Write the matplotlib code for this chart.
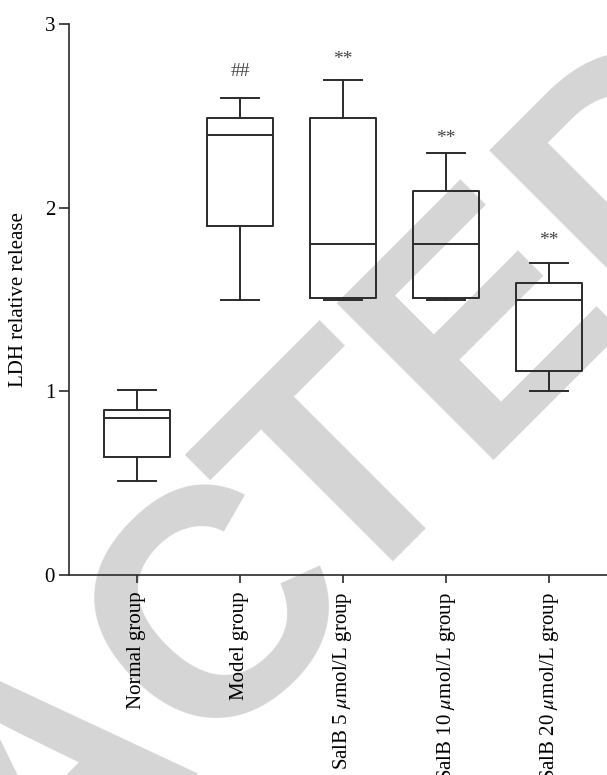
import matplotlib
matplotlib.use("Agg")
import matplotlib.pyplot as plt
from matplotlib.textpath import TextPath
from matplotlib.font_manager import FontProperties

categories = ["Normal group", "Model group", r"SalB 5 $\mu$mol/L group",
              r"SalB 10 $\mu$mol/L group", r"SalB 20 $\mu$mol/L group"]
whisk_low = [0.51, 1.50, 1.50, 1.50, 1.00]
q1 = [0.64, 1.90, 1.51, 1.51, 1.11]
median = [0.855, 2.395, 1.80, 1.80, 1.50]
q3 = [0.90, 2.49, 2.49, 2.09, 1.59]
whisk_high = [1.005, 2.595, 2.695, 2.295, 1.70]
marks = ["", "##", "**", "**", "**"]
mark_y = [None, 2.74, 2.807, 2.377, 1.821]

plt.rcParams['font.family'] = ['Liberation Serif', 'DejaVu Serif']
plt.rcParams['mathtext.fontset'] = 'stix'

W, H = 607, 775
fig = plt.figure(figsize=(W / 100, H / 100), dpi=100)

# watermark "RETRACTED" (drawn in two parts to tighten spacing before the second T)
wm_fs = 233
fp = FontProperties(family='Liberation Sans', weight='bold')
px = wm_fs * 100 / 72
full_r = TextPath((0, 0), "RETRACTED", size=px, prop=fp).get_extents().x1
pre_r = TextPath((0, 0), "RETRAC", size=px, prop=fp).get_extents().x1
d = (full_r - pre_r) - 32
ax0, ay0 = 1.3106, 0.801
wm = dict(rotation=45, rotation_mode='anchor', ha='right', va='baseline',
          fontsize=wm_fs, color='#d5d5d5', family='Liberation Sans',
          weight='bold', zorder=-5)
fig.text(ax0, ay0, "TED", **wm)
fig.text(ax0 - d * 0.7071 / W, ay0 - d * 0.7071 / H, "RETRAC", **wm)

ax = fig.add_axes([69 / W, 200 / H, 1 - 69 / W, 551 / H])
ax.patch.set_alpha(0)
col = '#2b2b2b'
stats = []
for i in range(len(categories)):
    stats.append(dict(med=median[i], q1=q1[i], q3=q3[i],
                      whislo=whisk_low[i], whishi=whisk_high[i], fliers=[]))
ax.bxp(stats, positions=range(len(categories)), widths=0.64, showfliers=False,
       boxprops=dict(color=col, lw=1.4), medianprops=dict(color=col, lw=1.4),
       whiskerprops=dict(color=col, lw=1.4), capprops=dict(color=col, lw=1.4),
       capwidths=0.36, manage_ticks=False)

for i, m in enumerate(marks):
    if m:
        ax.text(i, mark_y[i], m, ha='center', va='center', fontsize=14, color='#444444')

ax.set_xlim(-0.66, 4.563)
ax.set_ylim(0, 3)
ax.set_yticks([0, 1, 2, 3])
ax.set_xticks(range(len(categories)))
ax.set_xticklabels(categories, rotation=90, fontsize=15)
ax.tick_params(axis='y', labelsize=15, length=7, width=1.2, color=col, pad=3)
ax.tick_params(axis='x', length=6, width=1.2, color=col, pad=6)
for s in ['top', 'right']:
    ax.spines[s].set_visible(False)
for s in ['left', 'bottom']:
    ax.spines[s].set_color(col)
    ax.spines[s].set_linewidth(1.2)
ax.set_ylabel("LDH relative release", fontsize=15, labelpad=12)

fig.savefig("out.png", dpi=100)
